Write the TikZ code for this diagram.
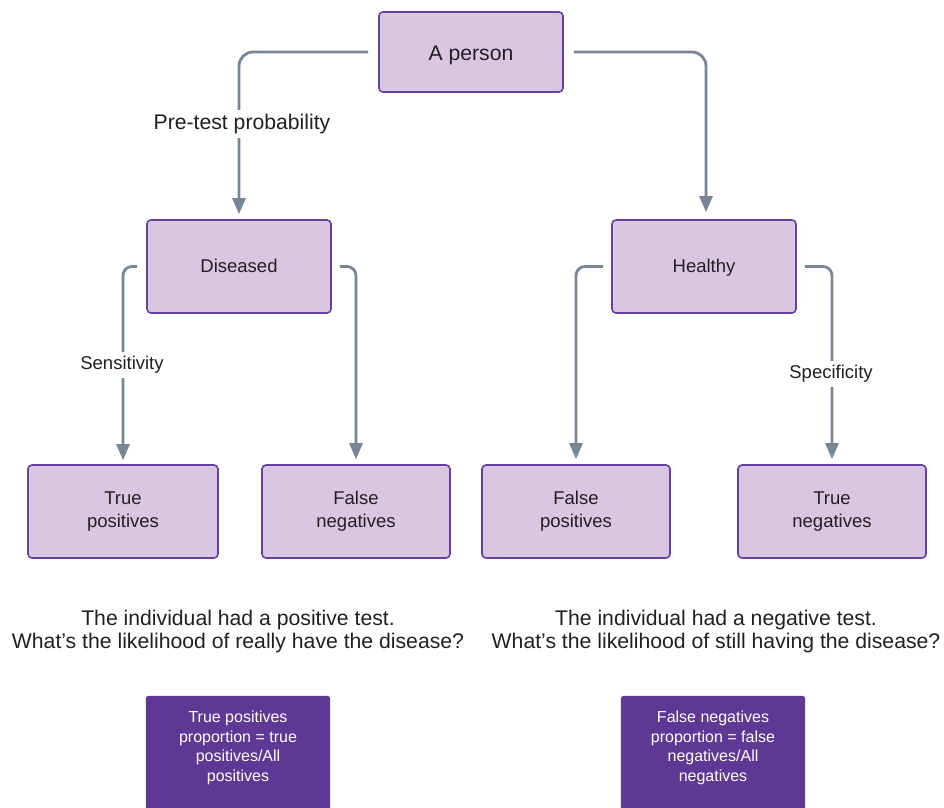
\documentclass[tikz,border=0pt]{standalone}
\usepackage{fontspec}
\setmainfont{Liberation Sans}
\usetikzlibrary{arrows.meta,backgrounds}
\definecolor{boxfill}{RGB}{217,198,224}
\definecolor{boxedge}{RGB}{104,62,160}
\definecolor{linec}{RGB}{118,134,150}
\definecolor{darkp}{RGB}{94,56,148}
\definecolor{txt}{RGB}{35,31,32}
\begin{document}
\begin{tikzpicture}[x=1pt,y=-1pt,
  lbox/.style={draw=boxedge, line width=1.6pt, fill=boxfill, rounded corners=4pt,
    align=center, text=txt, inner sep=0pt, minimum height=93pt},
  bigfont/.style={font=\fontsize{21.2}{23}\selectfont},
  midfont/.style={font=\fontsize{18.5}{23}\selectfont},
  conn/.style={draw=linec, line width=2.8pt, rounded corners=9pt,
    -{Triangle[length=16pt,width=13pt]}},
  lab/.style={fill=white, text=txt, inner xsep=2pt, inner ysep=4pt},
  darkbox/.style={text=white, align=center,
    minimum width=184pt, minimum height=104pt, inner sep=0pt,
    font=\fontsize{16}{19.5}\selectfont},
  question/.style={align=center, text=txt, bigfont}
]
\useasboundingbox (0,0) rectangle (944,807);

% boxes
\node[lbox, bigfont, minimum width=184pt, minimum height=80pt, text height=17pt, text depth=1pt] (person) at (471,52) {A person};
\node[lbox, midfont, minimum width=184pt, text height=14pt, text depth=2pt] (diseased) at (239,266.5) {Diseased};
\node[lbox, midfont, minimum width=184pt, text height=14pt, text depth=2pt] (healthy) at (704,266.5) {Healthy};
\node[lbox, midfont, minimum width=190pt] (tp) at (123,511.5) {True\\positives};
\node[lbox, midfont, minimum width=188pt] (fn) at (356,511.5) {False\\negatives};
\node[lbox, midfont, minimum width=188pt] (fp) at (576,511.5) {False\\positives};
\node[lbox, midfont, minimum width=188pt] (tn) at (832,511.5) {True\\negatives};

% connectors
\draw[conn, rounded corners=14pt] ([xshift=-10pt]person.west) -| ([yshift=5pt]diseased.north);
\draw[conn, rounded corners=14pt] ([xshift=10pt]person.east) -| ([xshift=2pt,yshift=7pt]healthy.north);
\draw[conn] ([xshift=-9pt]diseased.west) -| ([yshift=4pt]tp.north);
\draw[conn] ([xshift=8pt]diseased.east) -| ([yshift=5pt]fn.north);
\draw[conn] ([xshift=-8pt]healthy.west) -| ([yshift=5pt]fp.north);
\draw[conn] ([xshift=8pt]healthy.east) -| ([yshift=5pt]tn.north);

% labels on connectors
\node[lab, bigfont] (pretest) at (242,124) {Pre-test probability};
\node[lab, midfont] (sens) at (122,365) {Sensitivity};
\node[lab, midfont] (spec) at (831,374) {Specificity};

% questions
\node[question] (q1) at (238,631.5) {The individual had a positive test.\\What’s the likelihood of really have the disease?};
\node[question] (q2) at (716,631.5) {The individual had a negative test.\\What’s the likelihood of still having the disease?};

% dark boxes (running off the bottom edge)
\node[darkbox] (tpp) at (238,748) {True positives\\proportion = true\\positives/All\\positives};
\node[darkbox] (fnp) at (713,748) {False negatives\\proportion = false\\negatives/All\\negatives};
\begin{scope}[on background layer]
  \fill[darkp, rounded corners=3pt] (tpp.north west) rectangle ([yshift=-14pt]tpp.south east);
  \fill[darkp, rounded corners=3pt] (fnp.north west) rectangle ([yshift=-14pt]fnp.south east);
\end{scope}
\end{tikzpicture}
\end{document}
